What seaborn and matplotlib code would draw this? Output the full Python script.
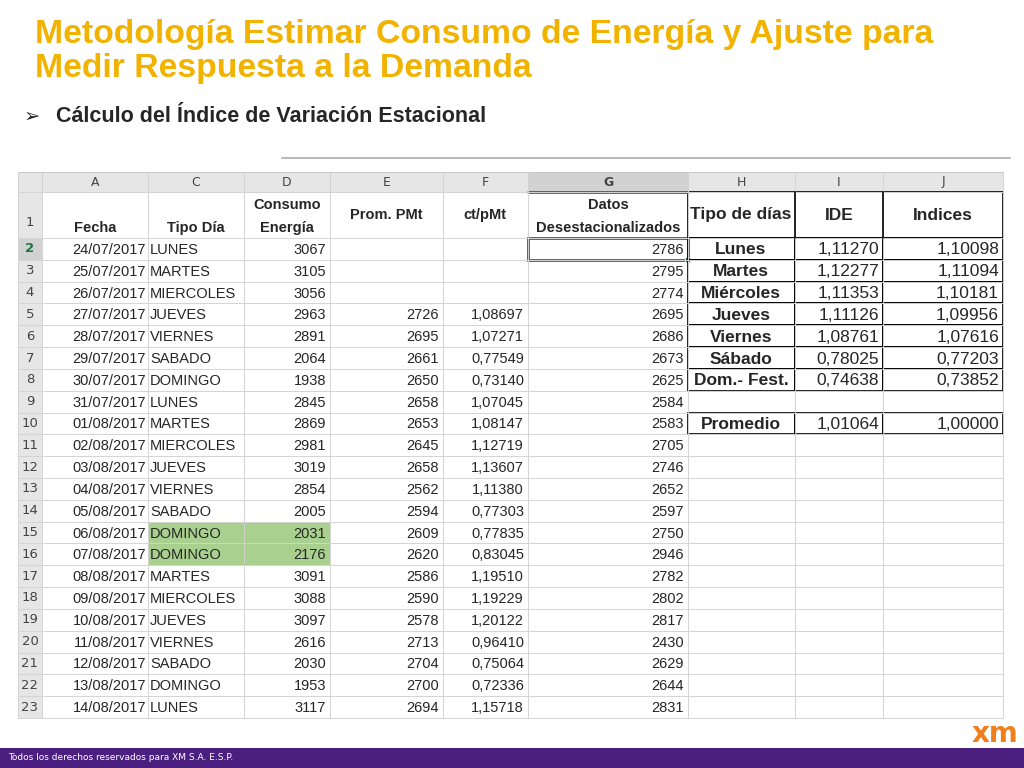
import matplotlib
matplotlib.use("Agg")
import matplotlib.pyplot as plt
import seaborn as sns
from matplotlib.patches import Rectangle

sns.set_style("white")

fechas = ["24/07/2017","25/07/2017","26/07/2017","27/07/2017","28/07/2017","29/07/2017","30/07/2017",
          "31/07/2017","01/08/2017","02/08/2017","03/08/2017","04/08/2017","05/08/2017","06/08/2017",
          "07/08/2017","08/08/2017","09/08/2017","10/08/2017","11/08/2017","12/08/2017","13/08/2017","14/08/2017"]
tipo_dia = ["LUNES","MARTES","MIERCOLES","JUEVES","VIERNES","SABADO","DOMINGO","LUNES","MARTES","MIERCOLES",
            "JUEVES","VIERNES","SABADO","DOMINGO","DOMINGO","MARTES","MIERCOLES","JUEVES","VIERNES","SABADO","DOMINGO","LUNES"]
consumo = [3067,3105,3056,2963,2891,2064,1938,2845,2869,2981,3019,2854,2005,2031,2176,3091,3088,3097,2616,2030,1953,3117]
prom_pmt = [None,None,None,2726,2695,2661,2650,2658,2653,2645,2658,2562,2594,2609,2620,2586,2590,2578,2713,2704,2700,2694]
ct_pmt = [None,None,None,"1,08697","1,07271","0,77549","0,73140","1,07045","1,08147","1,12719","1,13607","1,11380",
          "0,77303","0,77835","0,83045","1,19510","1,19229","1,20122","0,96410","0,75064","0,72336","1,15718"]
desest = [2786,2795,2774,2695,2686,2673,2625,2584,2583,2705,2746,2652,2597,2750,2946,2782,2802,2817,2430,2629,2644,2831]
tipos_semana = ["Lunes","Martes","Miércoles","Jueves","Viernes","Sábado","Dom.- Fest."]
ide = ["1,11270","1,12277","1,11353","1,11126","1,08761","0,78025","0,74638"]
indices = ["1,10098","1,11094","1,10181","1,09956","1,07616","0,77203","0,73852"]
promedio = ("Promedio","1,01064","1,00000")

fig = plt.figure(figsize=(10.24,7.68), dpi=100)
ax = fig.add_axes([0,0,1,1])
ax.set_xlim(0,1024); ax.set_ylim(768,0); ax.axis("off")

orange = "#F2B200"
ax.text(35,34,"Metodología Estimar Consumo de Energía y Ajuste para",color=orange,fontsize=24.3,fontweight="bold",va="center",family="Liberation Sans")
ax.text(35,69,"Medir Respuesta a la Demanda",color=orange,fontsize=24.3,fontweight="bold",va="center",family="Liberation Sans")
ax.text(24,116,"➢",fontsize=14,va="center",family="DejaVu Sans")
ax.text(56,116,"Cálculo del Índice de Variación Estacional",fontsize=15.5,fontweight="bold",va="center",family="Liberation Sans")
ax.plot([282,1010],[158,158],color="#bbbbbb",lw=1.5)

xs = [18,42,148,244,330,443,528,688,795,883,1003]
letters = ["","A","C","D","E","F","G","H","I","J"]
hy0, hy1 = 172, 192
r1 = 238
rh = (718-238)/22
grid = "#d4d4d4"
for i in range(len(xs)-1):
    fc = "#d2d2d2" if letters[i]=="G" else "#e6e6e6"
    ax.add_patch(Rectangle((xs[i],hy0),xs[i+1]-xs[i],hy1-hy0,fc=fc,ec="#c0c0c0",lw=0.6))
    ax.text((xs[i]+xs[i+1])/2,(hy0+hy1)/2,letters[i],ha="center",va="center",fontsize=9,color="#444444",
            fontweight="bold" if letters[i]=="G" else "normal")
ax.plot([528,688],[hy1,hy1],color="#217346",lw=2)
ax.add_patch(Rectangle((18,hy1),24,718-hy1,fc="#e6e6e6",ec="none"))
ax.text(30,(hy1+r1)/2+8,"1",ha="center",va="center",fontsize=9.5,color="#444444")
for k in range(22):
    y = r1+k*rh
    if k==0:
        ax.add_patch(Rectangle((18,y),24,rh,fc="#d2d2d2",ec="none"))
    ax.text(30,y+rh/2,str(k+2),ha="center",va="center",fontsize=9.5,color="#217346" if k==0 else "#444444",
            fontweight="bold" if k==0 else "normal")
for k in (13,14):
    ax.add_patch(Rectangle((148,r1+k*rh),182,rh,fc="#A9D08E",ec="none"))
for x in xs:
    ax.plot([x,x],[hy0,718],color=grid,lw=0.7)
ax.plot([18,1003],[hy1,hy1],color=grid,lw=0.7)
for k in range(23):
    y = r1+k*rh
    ax.plot([18,1003],[y,y],color=grid,lw=0.7)
hf = dict(fontsize=10.5,fontweight="bold",va="center",family="Liberation Sans")
ax.text(95,228,"Fecha",ha="center",**hf)
ax.text(196,228,"Tipo Día",ha="center",**hf)
ax.text(287,205,"Consumo",ha="center",**hf)
ax.text(287,228,"Energía",ha="center",**hf)
ax.text(386,215,"Prom. PMt",ha="center",**hf)
ax.text(485,215,"ct/pMt",ha="center",**hf)
ax.text(608,205,"Datos",ha="center",**hf)
ax.text(608,228,"Desestacionalizados",ha="center",**hf)
tf = dict(fontsize=10.5,va="center",family="Liberation Sans")
for k in range(22):
    yc = r1+k*rh+rh/2+1
    ax.text(146,yc,fechas[k],ha="right",**tf)
    ax.text(150,yc,tipo_dia[k],ha="left",**tf)
    ax.text(326,yc,str(consumo[k]),ha="right",**tf)
    if prom_pmt[k] is not None:
        ax.text(439,yc,str(prom_pmt[k]),ha="right",**tf)
        ax.text(524,yc,ct_pmt[k],ha="right",**tf)
    ax.text(684,yc,str(desest[k]),ha="right",**tf)
ax.add_patch(Rectangle((528,r1),160,rh,fc="none",ec="#217346",lw=2))
ax.add_patch(Rectangle((685,r1+rh-3),5,5,fc="#217346",ec="white",lw=0.5))
rf = dict(fontsize=12.5,va="center",family="Liberation Sans")
ax.add_patch(Rectangle((688,hy1),315,r1-hy1,fc="white",ec="black",lw=1.2))
for x in (795,883):
    ax.plot([x,x],[hy1,r1],color="black",lw=1.2)
ax.text(741,215,"Tipo de días",ha="center",fontweight="bold",**rf)
ax.text(839,215,"IDE",ha="center",fontweight="bold",**rf)
ax.text(943,215,"Indices",ha="center",fontweight="bold",**rf)
for k in range(7):
    y = r1+k*rh
    for x0,x1 in ((688,795),(795,883),(883,1003)):
        ax.add_patch(Rectangle((x0,y),x1-x0,rh,fc="none",ec="black",lw=1.2))
    yc = y+rh/2+1
    ax.text(741,yc,tipos_semana[k],ha="center",fontweight="bold",**rf)
    ax.text(879,yc,ide[k],ha="right",**rf)
    ax.text(999,yc,indices[k],ha="right",**rf)
y = r1+8*rh
for x0,x1 in ((688,795),(795,883),(883,1003)):
    ax.add_patch(Rectangle((x0,y),x1-x0,rh,fc="none",ec="black",lw=1.2))
ax.text(741,y+rh/2+1,promedio[0],ha="center",fontweight="bold",**rf)
ax.text(879,y+rh/2+1,promedio[1],ha="right",**rf)
ax.text(999,y+rh/2+1,promedio[2],ha="right",**rf)

ax.add_patch(Rectangle((0,748),1024,20,fc="#4B1F7F",ec="none"))
ax.text(8,757,"Todos los derechos reservados para XM S.A. E.S.P.",color="white",fontsize=6.5,va="center")
ax.text(995,734,"xm",color="#F07F1B",fontsize=20,fontweight="bold",ha="center",va="center")

fig.savefig("out.png",dpi=100)
